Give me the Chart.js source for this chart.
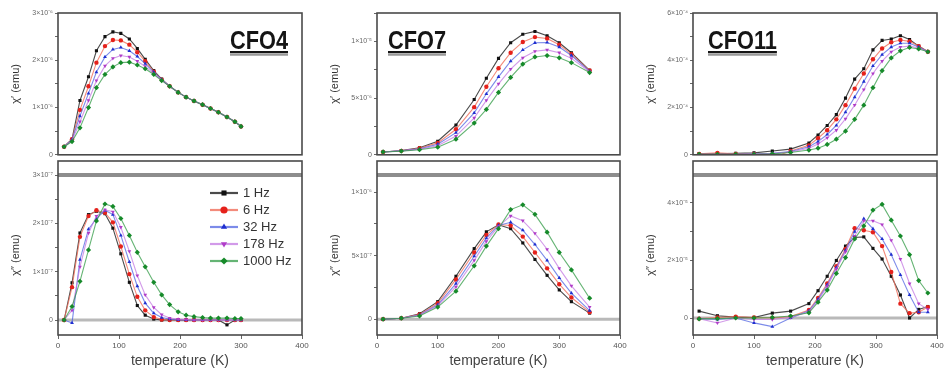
<!DOCTYPE html>
<html><head><meta charset="utf-8">
<script src="https://cdn.jsdelivr.net/npm/chart.js@4.4.1/dist/chart.umd.min.js"></script>
<style>
html,body{margin:0;padding:0;background:#fff;width:946px;height:374px;overflow:hidden;position:relative}
canvas{position:absolute}
</style></head><body>
<canvas id="c1t"></canvas><canvas id="c1b"></canvas>
<canvas id="c2t"></canvas><canvas id="c2b"></canvas>
<canvas id="c3t"></canvas><canvas id="c3b"></canvas>
<script>
// ---------- data ----------
const freqLabels = ['1 Hz','6 Hz','32 Hz','178 Hz','1000 Hz'];
const panelNames = ['CFO4','CFO7','CFO11'];
const xTickLabels = ['0','100','200','300','400'];

const tempCFO4 = [10,23,36,50,63,77,90,103,117,130,143,157,170,183,197,210,223,237,250,263,277,290,300];
const cfo4Re1Hz    = [0.17,0.33,1.15,1.65,2.2,2.5,2.6,2.57,2.45,2.25,2.02,1.78,1.6,1.45,1.32,1.22,1.14,1.06,0.98,0.9,0.8,0.7,0.6];
const cfo4Re6Hz    = [0.17,0.33,0.95,1.45,1.95,2.3,2.43,2.42,2.33,2.17,1.98,1.76,1.59,1.45,1.32,1.22,1.14,1.06,0.98,0.9,0.8,0.7,0.6];
const cfo4Re32Hz   = [0.17,0.32,0.82,1.3,1.75,2.07,2.23,2.27,2.2,2.08,1.93,1.75,1.59,1.45,1.32,1.22,1.14,1.06,0.98,0.9,0.8,0.7,0.6];
const cfo4Re178Hz  = [0.17,0.3,0.7,1.15,1.57,1.88,2.04,2.1,2.07,1.98,1.87,1.72,1.58,1.45,1.32,1.22,1.14,1.06,0.98,0.9,0.8,0.7,0.6];
const cfo4Re1000Hz = [0.17,0.28,0.57,1.0,1.42,1.7,1.86,1.95,1.96,1.9,1.82,1.7,1.57,1.45,1.32,1.22,1.14,1.06,0.98,0.9,0.8,0.7,0.6];

const cfo4Im1Hz    = [0,0.77,1.8,2.18,2.25,2.2,1.9,1.37,0.78,0.3,0.1,0.02,0,0,0,0,0,0,0,0,-0.1,0,0];
const cfo4Im6Hz    = [0,0.68,1.72,2.15,2.27,2.22,2.02,1.52,0.95,0.48,0.2,0.06,0.01,0,0,0,0,0,0,0,0,0,0];
const cfo4Im32Hz   = [0,-0.06,1.25,1.88,2.1,2.27,2.18,1.75,1.2,0.7,0.35,0.14,0.05,0.02,0,0,0,0,0,0,0,0,0];
const cfo4Im178Hz  = [0,0.2,1.1,1.8,2.15,2.28,2.24,1.92,1.42,0.92,0.52,0.26,0.11,0.04,0.02,0.01,0,0,0,0,0,0,0];
const cfo4Im1000Hz = [0,0.28,0.8,1.45,2.05,2.4,2.35,2.1,1.75,1.4,1.1,0.78,0.52,0.32,0.17,0.1,0.07,0.05,0.04,0.04,0.04,0.03,0.03];

const tempCFO7 = [10,40,70,100,130,160,180,200,220,240,260,280,300,320,350];
const cfo7Re1Hz    = [0.1,0.15,0.25,0.48,1.05,1.95,2.7,3.4,3.95,4.25,4.35,4.2,3.95,3.6,2.98];
const cfo7Re6Hz    = [0.1,0.14,0.23,0.42,0.9,1.68,2.4,3.05,3.6,3.98,4.15,4.1,3.88,3.55,2.97];
const cfo7Re32Hz   = [0.1,0.14,0.21,0.37,0.78,1.48,2.15,2.75,3.3,3.7,3.95,3.96,3.8,3.5,2.95];
const cfo7Re178Hz  = [0.1,0.14,0.2,0.32,0.66,1.3,1.92,2.5,3.02,3.42,3.65,3.7,3.6,3.4,2.93];
const cfo7Re1000Hz = [0.1,0.13,0.18,0.27,0.55,1.12,1.6,2.2,2.73,3.2,3.45,3.5,3.42,3.25,2.9];

const cfo7Im1Hz    = [0,0.03,0.17,0.55,1.35,2.22,2.75,2.97,2.85,2.4,1.88,1.38,0.92,0.55,0.19];
const cfo7Im6Hz    = [0,0.03,0.15,0.5,1.25,2.1,2.65,2.98,2.95,2.6,2.1,1.6,1.1,0.68,0.22];
const cfo7Im32Hz   = [0,0.03,0.13,0.45,1.12,1.98,2.55,2.95,3.05,2.8,2.35,1.85,1.3,0.82,0.27];
const cfo7Im178Hz  = [0,0.03,0.12,0.42,1.02,1.85,2.45,2.92,3.25,3.1,2.7,2.2,1.6,1.05,0.38];
const cfo7Im1000Hz = [0,0.03,0.1,0.38,0.88,1.68,2.3,2.85,3.45,3.6,3.3,2.74,2.1,1.55,0.66];

const tempCFO11 = [10,40,70,100,130,160,190,205,220,235,250,265,280,295,310,325,340,355,370,385];
const cfo11Re1Hz    = [0.02,0.02,0.03,0.04,0.08,0.12,0.25,0.42,0.62,0.85,1.2,1.6,1.82,2.22,2.42,2.45,2.52,2.44,2.3,2.18];
const cfo11Re6Hz    = [0.02,0.04,0.02,0.02,-0.06,0.08,0.2,0.35,0.52,0.75,1.05,1.4,1.72,2.02,2.25,2.38,2.43,2.4,2.3,2.18];
const cfo11Re32Hz   = [0.01,0.01,0.01,0.02,0.03,0.07,0.17,0.28,0.43,0.62,0.9,1.22,1.55,1.88,2.12,2.28,2.36,2.36,2.28,2.18];
const cfo11Re178Hz  = [0.01,0.01,0.01,0.02,0.03,0.06,0.14,0.23,0.36,0.52,0.76,1.05,1.38,1.72,1.98,2.18,2.28,2.3,2.26,2.18];
const cfo11Re1000Hz = [0.01,0.01,0.01,0.01,0.02,0.05,0.1,0.14,0.22,0.33,0.5,0.75,1.05,1.42,1.78,2.05,2.2,2.27,2.24,2.18];

const cfo11Im1Hz    = [0.24,0.08,0.03,0.02,0.17,0.24,0.5,0.95,1.45,2.0,2.5,2.8,2.82,2.42,2.05,1.45,0.8,0.0,0.3,0.4];
const cfo11Im6Hz    = [-0.02,0.02,0.05,0.02,0.0,0.05,0.28,0.7,1.2,1.8,2.4,3.12,3.05,2.98,2.5,1.6,0.5,0.17,0.2,0.38];
const cfo11Im32Hz   = [-0.02,-0.05,0.0,-0.17,-0.3,0.0,0.25,0.65,1.15,1.75,2.35,3.0,3.45,3.1,2.75,2.2,1.5,0.8,0.2,0.2];
const cfo11Im178Hz  = [-0.02,-0.17,0.0,-0.05,-0.05,0.02,0.22,0.6,1.1,1.7,2.3,2.85,3.38,3.38,3.25,2.7,2.05,1.2,0.5,0.3];
const cfo11Im1000Hz = [-0.03,-0.02,0.0,0.0,0.02,0.07,0.18,0.55,0.97,1.55,2.1,2.75,3.2,3.75,3.95,3.4,2.85,2.2,1.3,0.87];

// y tick values / labels
const cfo4ReTickVals = [0,0.5,1,1.5,2,2.5,3];
const cfo4ReTickLabels = ['0','','1×10⁻⁶','','2×10⁻⁶','','3×10⁻⁶'];
const cfo4ImTickVals = [0,0.5,1,1.5,2,2.5,3];
const cfo4ImTickLabels = ['0','','1×10⁻⁷','','2×10⁻⁷','','3×10⁻⁷'];
const cfo7ReTickVals = [0,1,2,3,4,5];
const cfo7ReTickLabels = ['0','','5×10⁻⁶','','1×10⁻⁵',''];
const cfo7ImTickVals = [0,1,2,3,4];
const cfo7ImTickLabels = ['0','','5×10⁻⁷','','1×10⁻⁶'];
const cfo11ReTickVals = [0,0.5,1,1.5,2,2.5,3];
const cfo11ReTickLabels = ['0','','2×10⁻⁴','','4×10⁻⁴','','6×10⁻⁴'];
const cfo11ImTickVals = [0,1,2,3,4];
const cfo11ImTickLabels = ['0','','2×10⁻⁵','','4×10⁻⁵'];

// ---------- style ----------
const FONT = '"Liberation Sans", Arial, sans-serif';
const markColors = ['#111111','#e5211b','#1f2fd0','#b03cc8','#168a2a'];
const lineColors = ['rgba(30,30,30,0.8)','rgba(240,110,90,0.8)','rgba(80,100,225,0.75)','rgba(195,120,225,0.75)','rgba(50,155,70,0.75)'];
const markStyles = ['rect','circle','triangle','triangle','rectRot'];
const markRot = [0,0,0,180,0];

function buildDatasets(temps, arrays){
  return arrays.map((vals,i)=>({
    label: freqLabels[i],
    data: temps.map((t,j)=>({x:t, y:vals[j]})),
    borderColor: lineColors[i], borderWidth: 1.1,
    backgroundColor: markColors[i],
    pointBackgroundColor: markColors[i], pointBorderColor: markColors[i], pointBorderWidth: 0,
    pointStyle: markStyles[i], pointRotation: markRot[i], pointRadius: i===4 ? 2.6 : 2.2,
    tension: 0, fill: false, order: 4 - i
  }));
}

const framePlugin = {
  id: 'frame',
  beforeDatasetsDraw(chart, args, o){
    const {ctx, chartArea:{left,right,top}} = chart;
    ctx.save();
    if (o.zero){
      const y0 = chart.scales.y.getPixelForValue(0);
      ctx.strokeStyle = '#b9b9b9'; ctx.lineWidth = 3;
      ctx.beginPath(); ctx.moveTo(left, y0); ctx.lineTo(right, y0); ctx.stroke();
    }
    if (o.band){
      ctx.strokeStyle = '#8d8d8d'; ctx.lineWidth = 4;
      ctx.beginPath(); ctx.moveTo(left, top); ctx.lineTo(right, top); ctx.stroke();
    }
    ctx.restore();
  },
  afterDraw(chart, args, o){
    const {ctx, chartArea:{left,right,top,bottom}} = chart;
    const ext = o.extendTop || 0;
    ctx.save();
    ctx.strokeStyle = '#4a4a4a'; ctx.lineWidth = 1.6;
    ctx.strokeRect(left, top - ext, right - left, bottom - top + ext);
    if (o.title){
      ctx.save();
      ctx.font = 'bold 25px ' + FONT;
      ctx.fillStyle = '#151515'; ctx.textBaseline = 'alphabetic';
      const x = left + o.title.dx, y = top + o.title.dy;
      ctx.translate(x, y); ctx.scale(0.87, 1);
      ctx.fillText(o.title.text, 0, 0);
      const w = ctx.measureText(o.title.text).width;
      ctx.strokeStyle = '#999'; ctx.lineWidth = 2.5;
      ctx.beginPath(); ctx.moveTo(0, 5.5); ctx.lineTo(w, 5.5); ctx.stroke();
      ctx.strokeStyle = '#151515'; ctx.lineWidth = 2;
      ctx.beginPath(); ctx.moveTo(0, 3); ctx.lineTo(w, 3); ctx.stroke();
      ctx.restore();
    }
    if (o.legend){
      const L = o.legend;
      chart.data.datasets.forEach((ds, i) => {
        const x = left + L.dx, y = top + L.dy + i * L.step;
        ctx.strokeStyle = ds.borderColor; ctx.lineWidth = 2.2;
        ctx.beginPath(); ctx.moveTo(x, y); ctx.lineTo(x + 28, y); ctx.stroke();
        ctx.fillStyle = ds.pointBackgroundColor; ctx.strokeStyle = ds.pointBorderColor;
        Chart.helpers.drawPoint(ctx, {pointStyle: ds.pointStyle, rotation: ds.pointRotation, radius: 3.6, borderWidth: 0}, x + 14, y);
        ctx.fillStyle = '#333'; ctx.font = '13px ' + FONT; ctx.textBaseline = 'middle';
        ctx.fillText(ds.label, x + 33, y + 0.5);
      });
    }
    ctx.restore();
  }
};

function yScale(min, max, vals, labels, title){
  return {
    type: 'linear', min, max,
    afterBuildTicks: s => { s.ticks = vals.map(v => ({value: v})); },
    afterFit: s => { s.width = 58; },
    ticks: { autoSkip: false, padding: 2, color: '#666', font: {size: 7, family: FONT},
             callback: (v, i) => labels[i] },
    grid: { drawOnChartArea: false, tickLength: 3, tickColor: '#666', tickWidth: 1 },
    border: { display: false },
    title: { display: true, text: title, color: '#333', font: {size: 11, family: FONT}, padding: {top: 9, bottom: 0} }
  };
}

function xScale(show){
  if (!show) return {type: 'linear', min: 0, max: 400, display: false};
  return {
    type: 'linear', min: 0, max: 400,
    afterBuildTicks: s => { s.ticks = [0,100,200,300,400].map(v => ({value: v})); },
    afterFit: s => { s.height = 39; },
    ticks: { autoSkip: false, maxRotation: 0, padding: 2, color: '#555', font: {size: 8, family: FONT},
             callback: (v, i) => xTickLabels[i] },
    grid: { drawOnChartArea: false, tickLength: 4, tickColor: '#666' },
    border: { display: false },
    title: { display: true, text: 'temperature (K)', color: '#444', font: {size: 14, family: FONT}, padding: {top: 0, bottom: 4} }
  };
}

function makeChart(id, box, temps, arrays, yCfg, xShow, padding, frameOpts){
  const cv = document.getElementById(id);
  cv.width = box.w; cv.height = box.h;
  cv.style.left = box.x + 'px'; cv.style.top = box.y + 'px';
  return new Chart(cv, {
    type: 'line',
    data: { datasets: buildDatasets(temps, arrays) },
    options: {
      responsive: false, animation: false, devicePixelRatio: 1,
      layout: { padding },
      scales: { x: xScale(xShow), y: yCfg },
      plugins: { legend: {display: false}, tooltip: {enabled: false}, frame: frameOpts }
    },
    plugins: [framePlugin]
  });
}

const cols = [{L:58, R:302}, {L:377, R:620}, {L:693, R:937}];
const padTop = {top: 13, right: 9, bottom: 1, left: 0};
const padBot = {top: 15, right: 9, bottom: 0, left: 0};
function topBox(c){ return {x: c.L - 58, y: 0, w: c.R - c.L + 67, h: 161}; }
function botBox(c){ return {x: c.L - 58, y: 160, w: c.R - c.L + 67, h: 214}; }

const reTitle = 'χ′ (emu)', imTitle = 'χ″ (emu)';

// CFO4
makeChart('c1t', topBox(cols[0]), tempCFO4,
  [cfo4Re1Hz, cfo4Re6Hz, cfo4Re32Hz, cfo4Re178Hz, cfo4Re1000Hz],
  yScale(0, 3, cfo4ReTickVals, cfo4ReTickLabels, reTitle), false, padTop,
  {title: {text: panelNames[0], dx: 172, dy: 36}});
makeChart('c1b', botBox(cols[0]), tempCFO4,
  [cfo4Im1Hz, cfo4Im6Hz, cfo4Im32Hz, cfo4Im178Hz, cfo4Im1000Hz],
  yScale(-0.31, 3, cfo4ImTickVals, cfo4ImTickLabels, imTitle), true, padBot,
  {zero: true, band: true, extendTop: 14, legend: {dx: 152, dy: 18, step: 17}});

// CFO7
makeChart('c2t', topBox(cols[1]), tempCFO7,
  [cfo7Re1Hz, cfo7Re6Hz, cfo7Re32Hz, cfo7Re178Hz, cfo7Re1000Hz],
  yScale(0, 5, cfo7ReTickVals, cfo7ReTickLabels, reTitle), false, padTop,
  {title: {text: panelNames[1], dx: 11, dy: 36}});
makeChart('c2b', botBox(cols[1]), tempCFO7,
  [cfo7Im1Hz, cfo7Im6Hz, cfo7Im32Hz, cfo7Im178Hz, cfo7Im1000Hz],
  yScale(-0.5, 4.54, cfo7ImTickVals, cfo7ImTickLabels, imTitle), true, padBot,
  {zero: true, band: true, extendTop: 14});

// CFO11
makeChart('c3t', topBox(cols[2]), tempCFO11,
  [cfo11Re1Hz, cfo11Re6Hz, cfo11Re32Hz, cfo11Re178Hz, cfo11Re1000Hz],
  yScale(0, 3, cfo11ReTickVals, cfo11ReTickLabels, reTitle), false, padTop,
  {title: {text: panelNames[2], dx: 15, dy: 36}});
makeChart('c3b', botBox(cols[2]), tempCFO11,
  [cfo11Im1Hz, cfo11Im6Hz, cfo11Im32Hz, cfo11Im178Hz, cfo11Im1000Hz],
  yScale(-0.59, 4.97, cfo11ImTickVals, cfo11ImTickLabels, imTitle), true, padBot,
  {zero: true, band: true, extendTop: 14});
</script>
</body></html>
